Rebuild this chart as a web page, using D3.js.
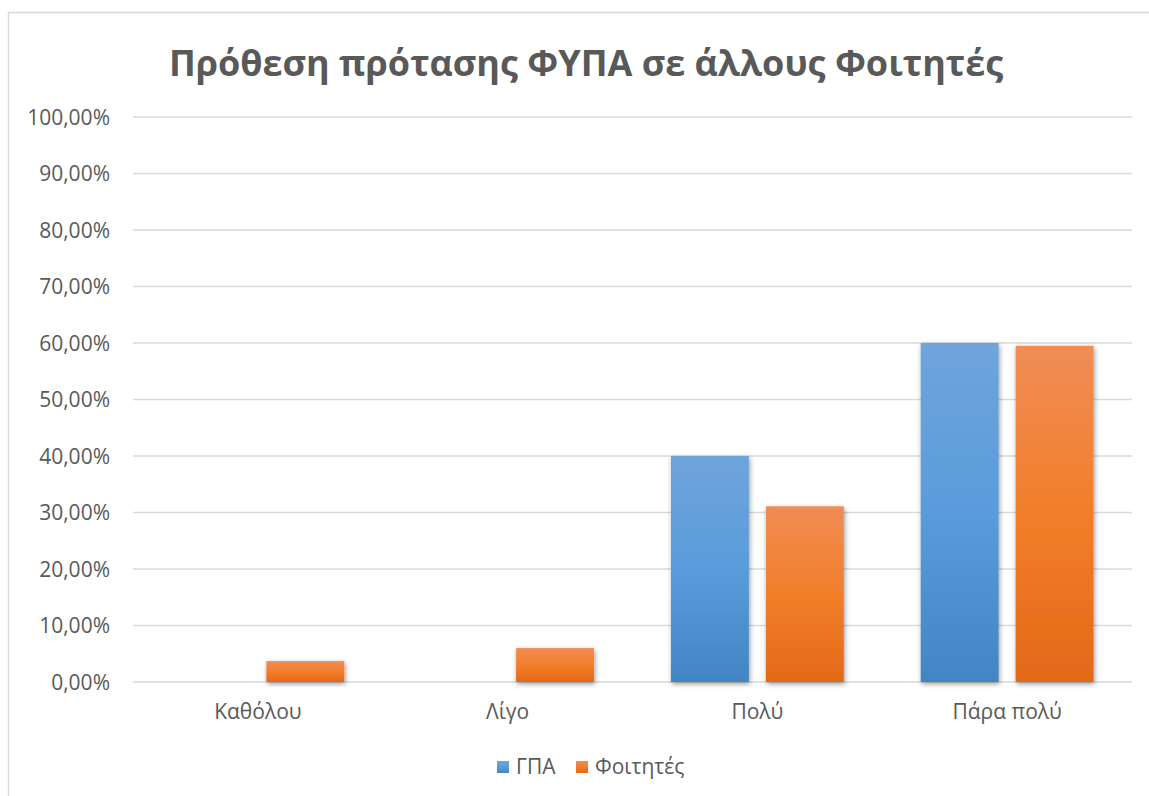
<!DOCTYPE html>
<html><head><meta charset="utf-8">
<script src="https://cdn.jsdelivr.net/npm/d3@7/dist/d3.min.js"></script>
<style>body{margin:0;background:#fff}svg{display:block}</style>
</head><body>
<script>
const categories = ["Καθόλου", "Λίγο", "Πολύ", "Πάρα πολύ"];
const seriesNames = ["ΓΠΑ", "Φοιτητές"];
const gpaValues = [0, 0, 40.0, 60.0];
const studentValues = [3.7, 6.0, 31.1, 59.5];
const yTicks = [0, 10, 20, 30, 40, 50, 60, 70, 80, 90, 100];
const title = "Πρόθεση πρότασης ΦΥΠΑ σε άλλους Φοιτητές";

const W = 1149, H = 796;
const svg = d3.select("body").append("svg").attr("width", W).attr("height", H);
const defs = svg.append("defs");
const grads = [["gBlue", "#6FA5DB", "#5A9BDB", "#4285C5"], ["gOrange", "#F08D55", "#F27E2A", "#E36918"]];
grads.forEach(([id, a, b, c]) => {
  const g = defs.append("linearGradient").attr("id", id).attr("x1", 0).attr("y1", 0).attr("x2", 0).attr("y2", 1);
  g.append("stop").attr("offset", "0%").attr("stop-color", a);
  g.append("stop").attr("offset", "50%").attr("stop-color", b);
  g.append("stop").attr("offset", "100%").attr("stop-color", c);
});
const f = defs.append("filter").attr("id", "shadow").attr("x", "-20%").attr("y", "-20%").attr("width", "140%").attr("height", "140%");
f.append("feDropShadow").attr("dx", 1).attr("dy", 2).attr("stdDeviation", 2.5).attr("flood-color", "#000").attr("flood-opacity", 0.4);

// outer border
svg.append("rect").attr("x", 8.5).attr("y", 12.5).attr("width", W).attr("height", H).attr("fill", "none").attr("stroke", "#d9d9d9").attr("stroke-width", 1.5);

const m = {left: 133, right: 1132, top: 117, bottom: 682};
const x0 = d3.scaleBand().domain(categories).range([m.left, m.right]).paddingInner(0).paddingOuter(0);
const x1 = d3.scaleBand().domain(seriesNames).range([0, x0.bandwidth()]).paddingInner(0.179).paddingOuter(0.405);
const y = d3.scaleLinear().domain([0, 100]).range([m.bottom, m.top]);

const fmt = v => d3.format(".2f")(v).replace(".", ",") + "%";
const FONT = "Open Sans, sans-serif";

// gridlines
svg.append("g").selectAll("line").data(yTicks).join("line")
  .attr("x1", m.left).attr("x2", m.right)
  .attr("y1", d => y(d)).attr("y2", d => y(d))
  .attr("stroke", "#d9d9d9").attr("stroke-width", 1.5);

// y axis labels
const yAxis = d3.axisLeft(y).tickValues(yTicks).tickFormat(fmt).tickSize(0).tickPadding(0);
const ya = svg.append("g").attr("transform", `translate(${110},0)`).call(yAxis);
ya.select(".domain").remove();
ya.selectAll("text").attr("font-family", FONT).attr("font-size", 21).attr("fill", "#595959").attr("dy", "0.35em");

// x axis labels
const xAxis = d3.axisBottom(x0).tickSize(0).tickPadding(0);
const xa = svg.append("g").attr("transform", `translate(0,${704})`).call(xAxis);
xa.select(".domain").remove();
xa.selectAll("text").attr("font-family", FONT).attr("font-size", 21).attr("fill", "#595959").attr("dy", "0.7em");

// bars
const data = categories.map((c, i) => ({c, vals: [{s: seriesNames[0], v: gpaValues[i]}, {s: seriesNames[1], v: studentValues[i]}]}));
const fills = {"ΓΠΑ": "url(#gBlue)", "Φοιτητές": "url(#gOrange)"};
svg.append("g").selectAll("g").data(data).join("g")
  .attr("transform", d => `translate(${x0(d.c)},0)`)
  .selectAll("rect").data(d => d.vals.filter(v => v.v > 0)).join("rect")
  .attr("x", d => x1(d.s)).attr("width", x1.bandwidth())
  .attr("y", d => y(d.v)).attr("height", d => y(0) - y(d.v))
  .attr("fill", d => fills[d.s]).attr("filter", "url(#shadow)");

// title
svg.append("text").attr("x", 586).attr("y", 76).attr("text-anchor", "middle")
  .attr("font-family", FONT).attr("font-weight", "bold").attr("font-size", 36)
  .attr("fill", "#595959").text(title);

// legend
const leg = svg.append("g").attr("transform", "translate(497,761)");
const legX = [0, 79];
seriesNames.forEach((s, i) => {
  const g = leg.append("g").attr("transform", `translate(${legX[i]},0)`);
  g.append("rect").attr("width", 12).attr("height", 12).attr("fill", fills[s]);
  g.append("text").attr("x", 19).attr("y", 6).attr("dy", "0.35em")
    .attr("font-family", FONT).attr("font-size", 21).attr("fill", "#595959").text(s);
});
</script>
</body></html>
